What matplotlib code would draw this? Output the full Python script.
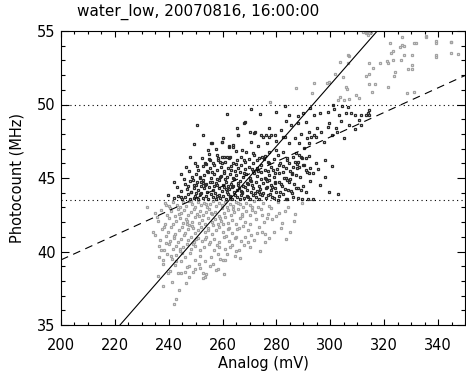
import numpy as np
import matplotlib
matplotlib.use('Agg')
import matplotlib.pyplot as plt
from matplotlib.ticker import MultipleLocator

plt.rcParams['font.family'] = ['DejaVu Sans']

# scatter points (Analog mV, Photocount MHz)
# gray points above the upper dotted line
gray_high = [
    (306.6, 53.37), (303.6, 52.90), (306.6, 52.80), (301.9, 52.07), (304.6, 51.90),
    (299.4, 51.55), (298.6, 51.44), (294.0, 51.44), (305.8, 51.17), (306.3, 51.03),
    (287.3, 51.10), (293.2, 50.76), (303.6, 50.53), (302.7, 50.30), (305.2, 50.30),
    (307.0, 50.37), (277.7, 50.19), (313.6, 54.96), (314.4, 54.85), (314.1, 54.73),
    (306.8, 53.30), (322.5, 53.50), (327.2, 54.00), (331.7, 54.16), (335.4, 54.66),
    (339.1, 54.20), (344.7, 54.23), (323.1, 53.03), (326.2, 53.03), (327.4, 53.37),
    (330.5, 52.69), (339.1, 53.37), (344.7, 53.48), (312.0, 54.95), (313.2, 54.84),
    (315.1, 54.95), (326.5, 54.60), (335.4, 54.60), (339.4, 54.34), (344.7, 54.27),
    (322.2, 54.16), (326.5, 54.05), (325.8, 53.90), (331.1, 54.16), (323.1, 53.67),
    (330.5, 53.35), (347.4, 53.44), (339.1, 53.20), (314.2, 52.84), (318.5, 52.84),
    (320.9, 52.98), (321.4, 52.84), (315.7, 52.50), (324.0, 52.24), (329.0, 52.40),
    (330.5, 52.40), (314.2, 52.07), (313.4, 51.94), (323.8, 51.94), (314.4, 51.37),
    (316.4, 51.37), (321.4, 51.21), (315.4, 50.87), (328.3, 50.76), (331.1, 50.87),
    (310.7, 50.42), (309.5, 50.65),
]

# dark points between the dotted lines
dark_upper = [
    (274.0, 49.35), (279.9, 49.51), (284.6, 49.29), (287.9, 49.22), (291.0, 48.83),
    (294.1, 49.29), (296.2, 49.44), (299.0, 49.51), (301.5, 49.67), (303.3, 49.29),
    (305.8, 49.40), (299.6, 48.72), (299.0, 48.49), (294.9, 48.38), (292.2, 48.15),
    (294.1, 47.93), (291.2, 47.70), (288.5, 47.36), (286.7, 47.70), (284.8, 47.36),
    (283.0, 47.81), (281.5, 48.27), (277.4, 48.38), (278.0, 47.93), (274.9, 47.81),
    (271.5, 48.04), (270.0, 48.15), (265.7, 47.93), (268.1, 48.77), (259.9, 47.47),
    (256.2, 47.36), (263.8, 47.13), (262.3, 47.13), (267.3, 46.90), (268.8, 46.79),
    (271.2, 46.68), (273.4, 46.34), (275.6, 46.50), (277.4, 46.79), (279.9, 46.90),
    (282.3, 46.79), (283.8, 46.34), (286.0, 46.45), (288.5, 46.56), (292.2, 46.50),
    (291.0, 46.34), (297.9, 46.22), (287.9, 46.11), (289.7, 45.88), (286.0, 45.77),
    (283.6, 45.66), (281.1, 45.88), (282.3, 45.43), (291.0, 45.54), (292.2, 45.32),
    (287.3, 45.20), (283.6, 44.98), (281.1, 44.75), (284.8, 44.75), (287.3, 44.29),
    (284.2, 44.18), (279.9, 44.07), (276.8, 43.84), (283.8, 43.55), (291.6, 43.55),
    (280.6, 43.50), (255.8, 47.36), (259.9, 47.43), (257.9, 46.56), (262.3, 47.18),
    (263.8, 47.24), (265.8, 47.93), (254.6, 46.90), (255.2, 46.22), (258.3, 46.34),
    (260.7, 46.45), (262.6, 46.45), (261.6, 46.45), (259.9, 46.00), (274.3, 47.93),
    (277.4, 47.81), (279.3, 47.93), (282.3, 47.81), (292.8, 47.81), (294.7, 47.81),
    (292.2, 47.36), (290.4, 47.02), (287.3, 46.68), (289.1, 46.45), (292.5, 45.66),
    (293.4, 45.32), (288.5, 45.73), (287.9, 43.62), (285.8, 45.32), (284.8, 46.00),
    (280.5, 46.56), (278.6, 45.54), (277.4, 44.86), (279.3, 44.64), (276.2, 44.30),
    (261.7, 49.35), (270.5, 49.70), (283.0, 49.90), (292.5, 49.75), (307.5, 49.40),
    (304.0, 48.90), (302.0, 48.40), (296.5, 48.10), (306.8, 48.60), (289.0, 48.00),
    (285.5, 48.60), (276.0, 47.90), (272.0, 48.10), (265.3, 48.38), (268.5, 48.83),
    (314.2, 49.63), (313.2, 49.29), (314.4, 49.29), (313.8, 49.40), (311.4, 49.29),
    (310.5, 48.95), (309.3, 49.29), (301.0, 49.95), (304.2, 49.90), (306.4, 49.85),
    (257.5, 46.95), (260.3, 47.70), (264.9, 46.85), (270.6, 47.45), (273.0, 47.20),
    (276.5, 47.35), (280.0, 47.55), (283.5, 48.85), (288.0, 48.75), (290.0, 49.45),
    (297.5, 47.45), (300.5, 47.90), (302.3, 48.10), (305.0, 47.70), (309.0, 48.30),
    (311.5, 48.60), (298.2, 45.10), (296.0, 44.50), (299.5, 44.05), (303.0, 43.90),
    (300.8, 45.80), (295.3, 45.60), (252.6, 47.95), (250.6, 48.60), (247.8, 46.40),
    (244.5, 45.30), (241.8, 44.70), (239.8, 43.85), (246.5, 45.75), (249.2, 47.30),
]

dark_core = [
    (242.1, 43.62), (243.5, 43.80), (245.0, 43.58), (246.2, 43.71), (247.3, 43.90),
    (248.0, 43.60), (249.6, 43.75), (250.8, 43.55), (251.5, 43.88), (252.7, 43.66),
    (253.9, 43.79), (254.6, 43.57), (255.8, 43.93), (256.5, 43.70), (257.4, 43.58),
    (258.6, 43.84), (259.2, 43.64), (260.3, 43.77), (261.1, 43.55), (261.9, 43.91),
    (262.8, 43.68), (263.6, 43.60), (264.5, 43.82), (265.3, 43.72), (266.4, 43.57),
    (267.2, 43.95), (268.1, 43.63), (269.0, 43.79), (270.2, 43.59), (271.4, 43.86),
    (272.3, 43.70), (273.5, 43.56), (274.8, 43.81), (276.0, 43.66), (277.6, 43.92),
    (279.1, 43.61), (281.0, 43.77), (283.5, 43.58), (286.2, 43.70), (289.4, 43.60),
    (293.5, 43.56), (244.7, 43.73), (248.4, 44.07), (249.3, 43.62),
    (244.5, 44.10), (246.8, 44.25), (248.2, 44.02), (249.5, 44.35), (250.9, 44.15),
    (252.0, 43.98), (253.1, 44.30), (254.3, 44.08), (255.1, 44.40), (256.4, 44.18),
    (257.2, 44.00), (258.5, 44.32), (259.7, 44.12), (260.4, 44.38), (261.5, 44.05),
    (262.3, 44.22), (263.4, 44.36), (264.1, 44.02), (265.2, 44.15), (266.0, 44.29),
    (267.1, 44.08), (268.3, 44.40), (269.2, 44.20), (270.5, 44.03), (271.3, 44.33),
    (272.6, 44.14), (273.8, 44.27), (275.1, 44.00), (276.5, 44.38), (278.0, 44.18),
    (279.6, 44.31), (281.2, 44.06), (283.0, 44.24), (285.5, 44.12), (288.1, 44.35),
    (291.0, 44.05),
    (246.0, 44.62), (247.9, 44.80), (249.2, 44.50), (250.6, 44.70), (251.8, 44.45),
    (252.9, 44.88), (254.0, 44.58), (255.3, 44.75), (256.7, 44.47), (257.6, 44.66),
    (258.8, 44.85), (260.0, 44.53), (261.2, 44.72), (262.0, 44.43), (263.1, 44.61),
    (264.2, 44.90), (265.6, 44.55), (266.5, 44.78), (267.7, 44.46), (268.9, 44.68),
    (270.0, 44.87), (271.1, 44.52), (272.4, 44.74), (273.6, 44.44), (275.0, 44.63),
    (276.3, 44.82), (277.8, 44.50), (279.5, 44.70), (281.5, 44.57), (283.9, 44.85),
    (286.5, 44.60), (289.8, 44.48), (292.6, 44.80), (249.0, 44.86), (250.3, 44.52),
    (256.2, 44.75), (252.7, 44.64), (252.1, 44.75),
    (248.5, 45.05), (250.2, 45.30), (251.6, 44.98), (253.0, 45.18), (254.4, 45.38),
    (255.6, 45.02), (256.9, 45.25), (258.1, 44.95), (259.3, 45.15), (260.6, 45.35),
    (261.8, 45.08), (262.9, 45.28), (264.0, 44.97), (265.1, 45.20), (266.3, 45.40),
    (267.5, 45.05), (268.6, 45.24), (270.1, 45.00), (271.5, 45.33), (272.9, 45.12),
    (274.2, 45.38), (275.7, 45.03), (277.3, 45.22), (279.0, 45.10), (280.8, 45.36),
    (282.9, 45.00), (285.6, 45.25), (288.9, 45.08), (291.4, 45.38), (251.5, 45.09),
    (251.0, 45.55), (252.8, 45.80), (254.1, 45.48), (255.5, 45.68), (256.8, 45.88),
    (258.0, 45.52), (259.4, 45.72), (260.7, 45.45), (261.9, 45.65), (263.2, 45.85),
    (264.6, 45.50), (265.9, 45.70), (267.0, 45.90), (268.4, 45.58), (269.8, 45.78),
    (271.2, 45.46), (272.7, 45.66), (274.1, 45.87), (275.9, 45.53), (277.9, 45.75),
    (280.2, 45.60), (282.6, 45.82), (285.1, 45.48), (287.8, 45.66), (290.2, 45.88),
    (253.4, 46.05), (255.0, 46.30), (256.6, 46.00), (258.2, 46.20), (259.8, 46.42),
    (261.0, 46.10), (262.5, 46.35), (264.0, 46.02), (265.4, 46.25), (266.9, 46.45),
    (268.2, 46.08), (269.7, 46.30), (271.3, 46.00), (272.8, 46.20), (274.6, 46.40),
    (276.8, 46.12), (278.9, 46.32), (281.4, 46.05), (284.0, 46.22), (286.8, 46.10),
    (289.6, 46.38), (294.5, 46.05),
]

dark_fill = [
    (247.0, 44.45), (250.0, 43.95), (253.6, 44.55), (257.9, 43.78), (260.9, 44.95),
    (263.8, 44.48), (266.8, 44.12), (269.6, 44.62), (272.0, 43.98), (274.4, 44.92),
    (276.9, 45.45), (278.5, 44.40), (270.8, 45.62), (267.9, 46.22), (263.0, 45.55),
    (259.0, 46.08), (256.0, 45.42), (253.8, 45.95), (257.8, 44.55), (262.6, 43.75),
    (266.7, 43.82), (270.7, 44.78), (273.1, 45.50), (275.2, 46.28), (277.1, 46.02),
    (279.6, 45.32), (281.9, 44.45), (285.0, 44.92), (287.5, 45.95), (289.2, 44.15),
    (250.5, 45.82), (252.3, 46.38), (254.9, 46.62), (258.9, 45.08), (261.3, 44.25),
    (264.9, 45.98), (268.0, 45.35), (271.8, 46.55), (273.4, 44.05), (276.1, 44.92),
    (245.6, 44.95), (247.5, 45.48), (249.6, 46.05), (243.2, 44.42), (265.7, 44.68),
    (269.4, 43.70), (273.9, 43.88), (278.3, 43.68), (282.4, 43.88), (285.9, 43.95),
]

# gray points below the lower dotted line
gray_low = [
    (232.0, 43.05), (238.5, 43.30), (240.2, 43.10), (241.6, 43.40), (242.9, 43.18),
    (244.1, 43.02), (245.3, 43.35), (246.5, 43.12), (247.4, 43.42), (248.6, 43.25),
    (249.8, 43.05), (250.7, 43.38), (251.9, 43.15), (253.0, 43.30), (254.2, 43.00),
    (255.4, 43.22), (256.3, 43.44), (257.5, 43.08), (258.7, 43.32), (259.6, 43.14),
    (260.8, 43.40), (261.7, 43.02), (262.9, 43.26), (264.0, 43.10), (265.1, 43.37),
    (266.3, 43.20), (267.6, 43.04), (268.8, 43.33), (270.1, 43.15), (271.6, 43.42),
    (273.2, 43.06), (275.0, 43.28), (277.1, 43.12), (280.4, 43.35), (284.2, 43.05),
    (289.5, 43.30),
    (234.8, 42.60), (237.0, 42.85), (239.3, 42.50), (240.8, 42.75), (242.2, 42.42),
    (243.4, 42.90), (244.7, 42.62), (245.8, 42.80), (247.0, 42.45), (248.1, 42.70),
    (249.3, 42.92), (250.4, 42.55), (251.6, 42.78), (252.8, 42.48), (253.9, 42.66),
    (255.0, 42.88), (256.2, 42.52), (257.3, 42.72), (258.5, 42.44), (259.6, 42.94),
    (260.7, 42.60), (261.9, 42.82), (263.2, 42.50), (264.4, 42.70), (265.8, 42.90),
    (267.2, 42.56), (268.7, 42.76), (270.3, 42.46), (272.0, 42.68), (274.2, 42.86),
    (276.9, 42.58), (279.8, 42.40), (283.3, 42.75), (287.0, 42.52),
    (236.2, 42.10), (238.6, 41.90), (240.1, 42.25), (241.5, 41.85), (242.8, 42.05),
    (244.0, 42.30), (245.2, 41.95), (246.4, 42.18), (247.6, 41.82), (248.7, 42.02),
    (249.9, 42.33), (251.1, 41.92), (252.2, 42.14), (253.5, 41.84), (254.7, 42.28),
    (255.9, 42.00), (257.0, 42.20), (258.2, 41.88), (259.5, 42.08), (260.8, 42.34),
    (262.1, 41.96), (263.5, 42.16), (265.0, 41.86), (266.6, 42.26), (268.3, 42.04),
    (270.2, 41.90), (272.5, 42.22), (275.3, 41.98), (278.4, 42.18), (282.0, 41.92),
    (286.4, 42.10),
    (234.2, 41.35), (235.0, 41.12), (237.5, 41.55), (239.7, 41.30), (241.0, 41.70),
    (242.4, 41.22), (243.7, 41.48), (244.9, 41.68), (246.1, 41.28), (247.3, 41.52),
    (248.5, 41.74), (249.6, 41.24), (250.8, 41.44), (252.0, 41.64), (253.3, 41.32),
    (254.6, 41.58), (256.0, 41.20), (257.4, 41.46), (258.8, 41.70), (260.3, 41.34),
    (261.9, 41.56), (263.6, 41.26), (265.4, 41.50), (267.5, 41.72), (270.6, 41.12),
    (272.7, 41.28), (274.7, 41.35), (275.6, 41.20), (278.9, 41.35), (281.5, 41.60),
    (236.8, 40.80), (239.0, 41.05), (240.6, 40.70), (242.0, 40.95), (243.3, 40.62),
    (244.6, 40.88), (245.8, 41.10), (247.1, 40.75), (248.3, 40.98), (249.5, 40.66),
    (250.9, 40.90), (252.3, 40.72), (253.8, 41.02), (255.3, 40.64), (256.9, 40.86),
    (258.6, 40.68), (260.4, 40.96), (262.3, 40.74), (264.5, 40.92), (266.8, 40.70),
    (268.5, 41.00), (275.9, 40.67), (277.2, 40.90), (283.4, 40.85), (269.4, 40.67),
    (236.4, 40.35), (238.2, 40.10), (240.0, 40.48), (241.4, 40.20), (242.7, 40.40),
    (244.0, 40.05), (245.4, 40.30), (246.9, 40.52), (248.4, 40.15), (249.9, 40.38),
    (251.5, 40.08), (253.2, 40.28), (255.0, 40.50), (256.9, 40.12), (258.8, 40.34),
    (261.0, 40.20), (263.5, 40.45), (266.2, 40.10), (270.0, 40.30), (273.8, 40.02),
    (265.1, 40.05),
    (236.4, 39.65), (237.7, 39.40), (239.5, 39.85), (241.2, 39.50), (242.8, 39.75),
    (244.5, 39.35), (246.1, 39.60), (247.9, 39.88), (249.6, 39.45), (251.5, 39.70),
    (253.6, 39.38), (255.8, 39.62), (258.2, 39.80), (261.0, 39.42), (264.5, 39.68),
    (261.6, 39.83), (266.3, 39.54), (241.0, 39.69),
    (237.7, 39.13), (240.5, 38.70), (242.3, 39.05), (244.6, 38.55), (246.8, 38.95),
    (249.1, 38.60), (251.7, 38.88), (254.0, 38.45), (257.5, 38.75), (260.4, 38.50),
    (239.7, 38.52), (243.4, 38.56), (245.9, 38.63), (247.5, 39.00), (249.6, 38.79),
    (255.2, 39.00), (258.3, 38.79), (260.1, 39.42),
    (237.7, 37.65), (241.2, 37.95), (243.8, 37.38), (242.8, 36.75), (242.0, 36.43),
    (252.7, 38.18), (253.3, 38.29), (246.5, 37.85), (236.0, 38.30),
]

gray_fill = [
    (243.9, 42.55), (246.9, 42.08), (249.1, 41.58), (251.3, 42.42), (253.7, 43.22),
    (256.6, 41.78), (259.1, 42.30), (261.4, 41.05), (263.9, 42.92), (266.1, 41.62),
    (268.1, 40.45), (270.9, 42.85), (273.6, 41.70), (276.3, 42.30), (244.3, 40.15),
    (246.8, 41.88), (248.9, 40.52), (251.2, 39.18), (253.4, 40.82), (255.7, 42.62),
    (257.9, 40.45), (260.1, 41.88), (262.7, 40.32), (264.8, 41.02), (267.3, 42.42),
    (269.5, 41.48), (271.8, 40.75), (238.2, 41.68), (240.4, 42.95), (239.1, 40.58),
    (241.9, 41.05), (242.6, 39.32), (245.0, 39.88), (247.6, 38.25), (250.0, 40.88),
    (252.6, 38.55), (256.4, 39.15), (259.0, 39.52), (262.5, 41.62), (265.6, 43.30),
    (271.0, 43.05), (274.5, 42.48), (278.0, 42.95), (281.0, 42.62), (285.2, 41.35),
    (238.9, 43.15), (235.5, 42.35), (237.0, 40.12), (248.2, 43.42), (254.4, 41.45),
]

# fitted lines: (slope, intercept)
solid_fit = (0.2094, -11.466)
dashed_fit = (0.0836, 22.71)
levels = [43.5, 50.0]

x_lim = (200, 350)
y_lim = (35, 55)

fig = plt.figure(figsize=(4.66, 3.73), dpi=100)
ax = fig.add_axes([61 / 466, 1 - 325 / 373, 404 / 466, 294 / 373])

gh = np.array(gray_high)
gl = np.array(gray_low + gray_fill)
dk = np.array(dark_upper + dark_core + dark_fill)

mk = dict(marker='s', linestyle='none', markersize=1.9, markerfacecolor='none',
          markeredgewidth=0.9)
ax.plot(gl[:, 0], gl[:, 1], color='#a2a2a2', **mk)
ax.plot(gh[:, 0], gh[:, 1], color='#a2a2a2', **mk)
ax.plot(dk[:, 0], dk[:, 1], color='#2a2a2a', **mk)

xx = np.array(x_lim, dtype=float)
ax.plot(xx, solid_fit[0] * xx + solid_fit[1], color='black', lw=0.8)
ax.plot(xx, dashed_fit[0] * xx + dashed_fit[1], color='black', lw=0.8,
        dashes=(7, 5))
for lv in levels:
    ax.axhline(lv, color='black', lw=0.8, dashes=(1, 3))

ax.set_xlim(x_lim)
ax.set_ylim(y_lim)
ax.xaxis.set_major_locator(MultipleLocator(20))
ax.xaxis.set_minor_locator(MultipleLocator(5))
ax.yaxis.set_major_locator(MultipleLocator(5))
ax.yaxis.set_minor_locator(MultipleLocator(1))
ax.tick_params(axis='both', which='both', direction='in', top=True, right=True,
               width=0.8, labelsize=10.5, colors='black')
ax.tick_params(axis='x', which='major', length=4.3, pad=9)
ax.tick_params(axis='x', which='minor', length=2.2)
ax.tick_params(axis='y', which='major', length=5.8, pad=4)
ax.tick_params(axis='y', which='minor', length=2.9)
for s in ax.spines.values():
    s.set_linewidth(0.8)

ax.set_xlabel('Analog (mV)', fontsize=10.5, labelpad=2.5)
ax.set_ylabel('Photocount (MHz)', fontsize=10.5, labelpad=9)
fig.text(77 / 466, 1 - 12 / 373, 'water_low, 20070816, 16:00:00', fontsize=11,
         ha='left', va='center')

fig.savefig('out.png', dpi=100)
